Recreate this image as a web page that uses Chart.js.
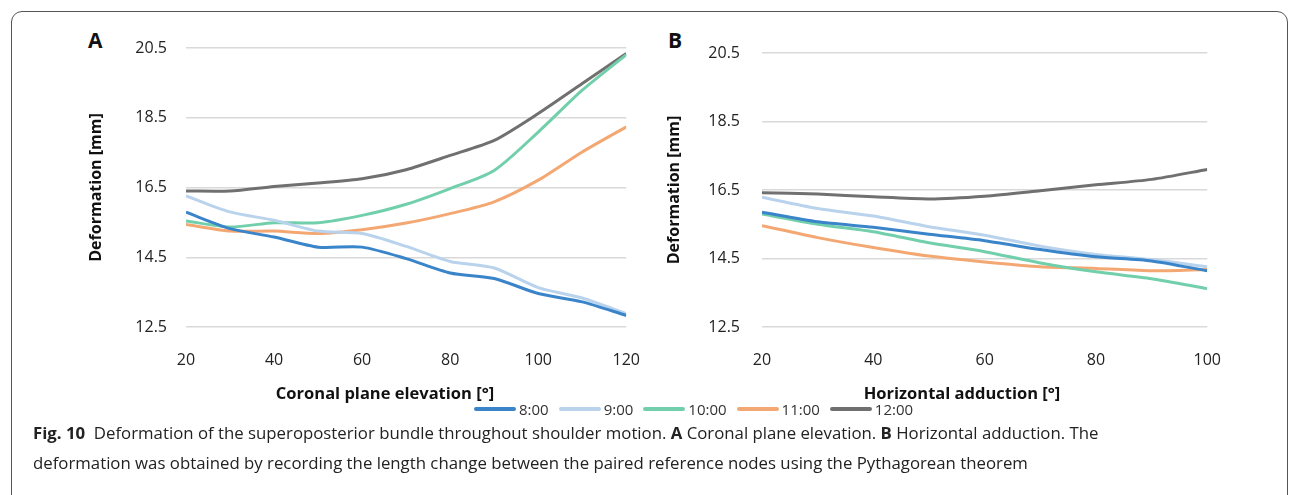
<!DOCTYPE html>
<html>
<head>
<meta charset="utf-8">
<script src="https://cdn.jsdelivr.net/npm/chart.js@4/dist/chart.umd.min.js"></script>
<style>
  html, body { margin: 0; padding: 0; background: #fff; }
  body { width: 1292px; height: 495px; position: relative; overflow: hidden; font-family: "Open Sans", sans-serif; }
  #frame { position: absolute; left: 11px; top: 11px; width: 1277px; height: 520px;
           border: 1.5px solid #555; border-radius: 11px 11px 0 0; box-sizing: border-box; }
  .panel { position: absolute; }
  .tag { position: absolute; font-weight: bold; font-size: 21px; color: #111; }
  .xtitle { position: absolute; top: 381px; font-weight: bold; font-size: 16.5px; color: #111;
            transform: translateX(-50%); white-space: nowrap; }
  #legend { position: absolute; top: 399px; left: 474px; display: flex; font-size: 15px; color: #333; }
  #legend span.item { display: flex; align-items: center; margin-right: 10px; }
  #legend span.sw { display: inline-block; width: 42px; height: 4px; border-radius: 2px; margin-right: 3px; }
  #caption { position: absolute; left: 33px; top: 418px; width: 1130px; font-size: 16.8px; line-height: 30px;
             color: #222; }
</style>
</head>
<body>
<div id="frame"></div>
<div class="tag" style="left:88px; top:26px;">A</div>
<div class="tag" style="left:668px; top:26px;">B</div>
<div class="panel" style="left:80px; top:0; width:576px; height:410px;"><canvas id="chartA"></canvas></div>
<div class="panel" style="left:658px; top:0; width:579px; height:410px;"><canvas id="chartB"></canvas></div>
<div class="xtitle" style="left:385px;">Coronal plane elevation [°]</div>
<div class="xtitle" style="left:962px;">Horizontal adduction [°]</div>
<div id="legend"></div>
<div id="caption"><b>Fig. 10</b>&nbsp; Deformation of the superoposterior bundle throughout shoulder motion. <b>A</b> Coronal plane elevation. <b>B</b> Horizontal adduction. The deformation was obtained by recording the length change between the paired reference nodes using the Pythagorean theorem</div>
<script>
// series names and colours
const seriesNames = ["8:00", "9:00", "10:00", "11:00", "12:00"];
const seriesColors = ["#3a84c9", "#b9d3ec", "#72cfab", "#f3a873", "#707070"];

// A: coronal plane elevation
const anglesA = [20, 30, 40, 50, 60, 70, 80, 90, 100, 110, 120];
const a800 = [15.79, 15.32, 15.08, 14.79, 14.79, 14.46, 14.05, 13.89, 13.46, 13.22, 12.83];
const a900 = [16.26, 15.80, 15.56, 15.25, 15.18, 14.81, 14.38, 14.19, 13.63, 13.33, 12.88];
const a1000 = [15.54, 15.37, 15.49, 15.49, 15.70, 16.02, 16.47, 16.99, 18.09, 19.29, 20.31];
const a1100 = [15.44, 15.25, 15.25, 15.18, 15.29, 15.48, 15.75, 16.09, 16.71, 17.52, 18.24];
const a1200 = [16.40, 16.40, 16.53, 16.63, 16.75, 17.01, 17.42, 17.85, 18.62, 19.48, 20.34];

// B: horizontal adduction
const anglesB = [20, 30, 40, 50, 60, 70, 80, 90, 100];
const b800 = [15.85, 15.57, 15.41, 15.21, 15.02, 14.76, 14.55, 14.43, 14.14];
const b900 = [16.29, 15.96, 15.74, 15.43, 15.18, 14.86, 14.62, 14.47, 14.26];
const b1000 = [15.80, 15.50, 15.28, 14.96, 14.70, 14.37, 14.11, 13.91, 13.62];
const b1100 = [15.46, 15.11, 14.82, 14.57, 14.40, 14.26, 14.21, 14.14, 14.18];
const b1200 = [16.42, 16.38, 16.30, 16.24, 16.32, 16.48, 16.65, 16.81, 17.10];

const yTicks = [12.5, 14.5, 16.5, 18.5, 20.5];

function makeSets(xs, list) {
  return list.map((vals, i) => ({
    label: seriesNames[i],
    data: vals.map((v, j) => ({ x: xs[j], y: v })),
    borderColor: seriesColors[i],
    backgroundColor: seriesColors[i],
    borderWidth: 3,
    pointRadius: 0,
    tension: 0.25,
    fill: false
  }));
}

function makeChart(id, xs, list, xMax, padTop, yWidth, tickPad) {
  const ctx = document.getElementById(id).getContext("2d");
  return new Chart(ctx, {
    type: "line",
    data: { datasets: makeSets(xs, list) },
    options: {
      responsive: true,
      maintainAspectRatio: false,
      animation: false,
      layout: { padding: { top: padTop, right: 20, left: 0, bottom: 0 } },
      plugins: { legend: { display: false }, tooltip: { enabled: false } },
      scales: {
        x: {
          type: "linear",
          min: 20,
          max: xMax,
          ticks: { stepSize: 20, padding: 16, color: "#222", font: { family: "Open Sans", size: 16 } },
          grid: { display: false },
          border: { display: false },
          afterFit: (s) => { s.height = 83; }
        },
        y: {
          min: 12.5,
          max: 20.5,
          afterBuildTicks: (s) => { s.ticks = yTicks.map((v) => ({ value: v })); },
          ticks: { padding: tickPad, color: "#222", font: { family: "Open Sans", size: 16 },
                   callback: (v) => v.toFixed(1) },
          grid: { color: "#d9d9d9", lineWidth: 1.5, drawTicks: false },
          border: { display: false },
          title: { display: true, text: "Deformation [mm]", color: "#111", padding: { top: 7, bottom: 0 },
                   font: { family: "Open Sans", size: 16, weight: "bold" } },
          afterFit: (s) => { s.width = yWidth; }
        }
      }
    }
  });
}

makeChart("chartA", anglesA, [a800, a900, a1000, a1100, a1200], 120, 48, 106, 19);
makeChart("chartB", anglesB, [b800, b900, b1000, b1100, b1200], 100, 53, 104, 22);

// legend
const leg = document.getElementById("legend");
seriesNames.forEach((n, i) => {
  const it = document.createElement("span");
  it.className = "item";
  const sw = document.createElement("span");
  sw.className = "sw";
  sw.style.background = seriesColors[i];
  it.appendChild(sw);
  it.appendChild(document.createTextNode(n));
  leg.appendChild(it);
});
</script>
</body>
</html>
